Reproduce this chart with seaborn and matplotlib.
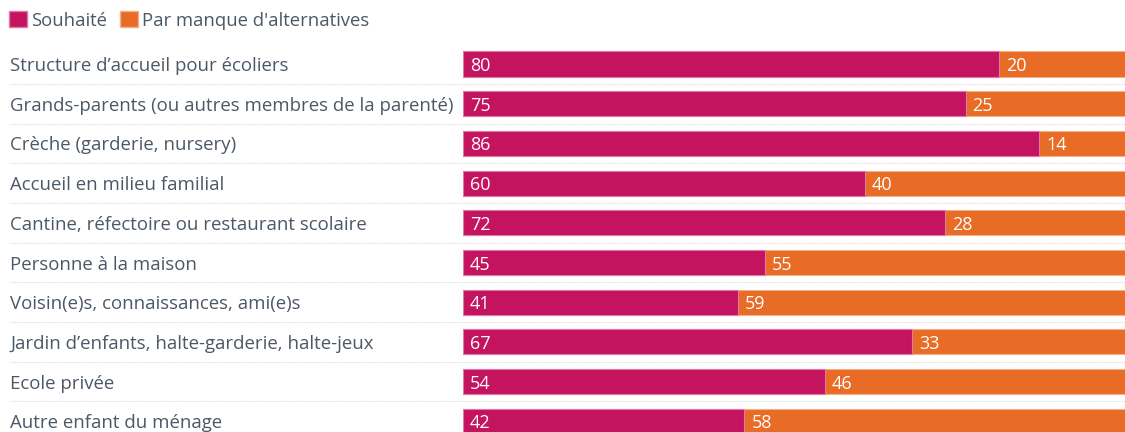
import matplotlib
matplotlib.use("Agg")
import matplotlib.pyplot as plt
import seaborn as sns
import pandas as pd
from matplotlib.patches import Patch

categories = [
    "Structure d\u2019accueil pour écoliers",
    "Grands-parents (ou autres membres de la parenté)",
    "Crèche (garderie, nursery)",
    "Accueil en milieu familial",
    "Cantine, réfectoire ou restaurant scolaire",
    "Personne à la maison",
    "Voisin(e)s, connaissances, ami(e)s",
    "Jardin d\u2019enfants, halte-garderie, halte-jeux",
    "Ecole privée",
    "Autre enfant du ménage",
]
souhaite = [80, 75, 86, 60, 72, 45, 41, 67, 54, 42]
manque = [20, 25, 14, 40, 28, 55, 59, 33, 46, 58]
series_names = ["Souhaité", "Par manque d'alternatives"]

C1 = "#C4135F"
C2 = "#E86C25"
TXT = "#4B5866"

sns.set_theme(style="white")
plt.rcParams["font.family"] = ["Open Sans", "DejaVu Sans"]

df = pd.DataFrame({"cat": categories, "s": souhaite, "m": manque})
df["total"] = df["s"] + df["m"]

fig = plt.figure(figsize=(11.25, 4.32), dpi=100)
W, H = 1125, 432
AXW = 670
top_px = 44.15
ax = fig.add_axes([463 / W, 0, AXW / W, (H - top_px) / H])

sns.barplot(data=df, y="cat", x="total", color=C2, orient="h", width=0.63,
            ax=ax, saturation=1, edgecolor="#F4B08A", linewidth=0.8)
n2 = len(ax.patches)
sns.barplot(data=df, y="cat", x="s", color=C1, orient="h", width=0.63,
            ax=ax, saturation=1, edgecolor="#E07AA5", linewidth=0.8)

ax.set_xlim(0, 100)
ax.set_ylim((H - top_px) / 39.7 - 0.5, -0.5)
ax.set_xlabel("")
ax.set_ylabel("")
ax.set_xticks([])
for s in ax.spines.values():
    s.set_visible(False)

ax.tick_params(axis="y", length=0, pad=453 * 0.72, labelsize=13.4, labelcolor=TXT)
for lbl in ax.get_yticklabels():
    lbl.set_ha("left")
    lbl.set_va("center_baseline")

pad = 7 / AXW * 100
for i, (p1, p2) in enumerate(zip(ax.patches[n2:], ax.patches[:n2])):
    y = p1.get_y() + p1.get_height() / 2
    ax.text(p1.get_x() + pad, y, f"{souhaite[i]}", color="white", va="center_baseline",
            ha="left", fontsize=13)
    ax.text(p1.get_width() + pad, y, f"{manque[i]}", color="white", va="center_baseline",
            ha="left", fontsize=13)

for i in range(len(categories) - 1):
    ax.axhline(i + 0.5, xmin=(10 - 463) / AXW, xmax=1, color="#DADADA",
               linestyle=(0, (1, 1)), linewidth=0.8, clip_on=False)

handles = [Patch(facecolor=C1, edgecolor="#E07AA5"), Patch(facecolor=C2, edgecolor="#F4B08A")]
leg = fig.legend(handles, series_names, loc="upper left", bbox_to_anchor=(-3.5 / W, 1 + 2 / H),
                 ncol=2, frameon=False, handlelength=0.95, handleheight=1.0,
                 handletextpad=0.22, columnspacing=0.7, fontsize=13.3,
                 borderaxespad=0.3, labelcolor=TXT)

fig.savefig("out.png", dpi=100)
